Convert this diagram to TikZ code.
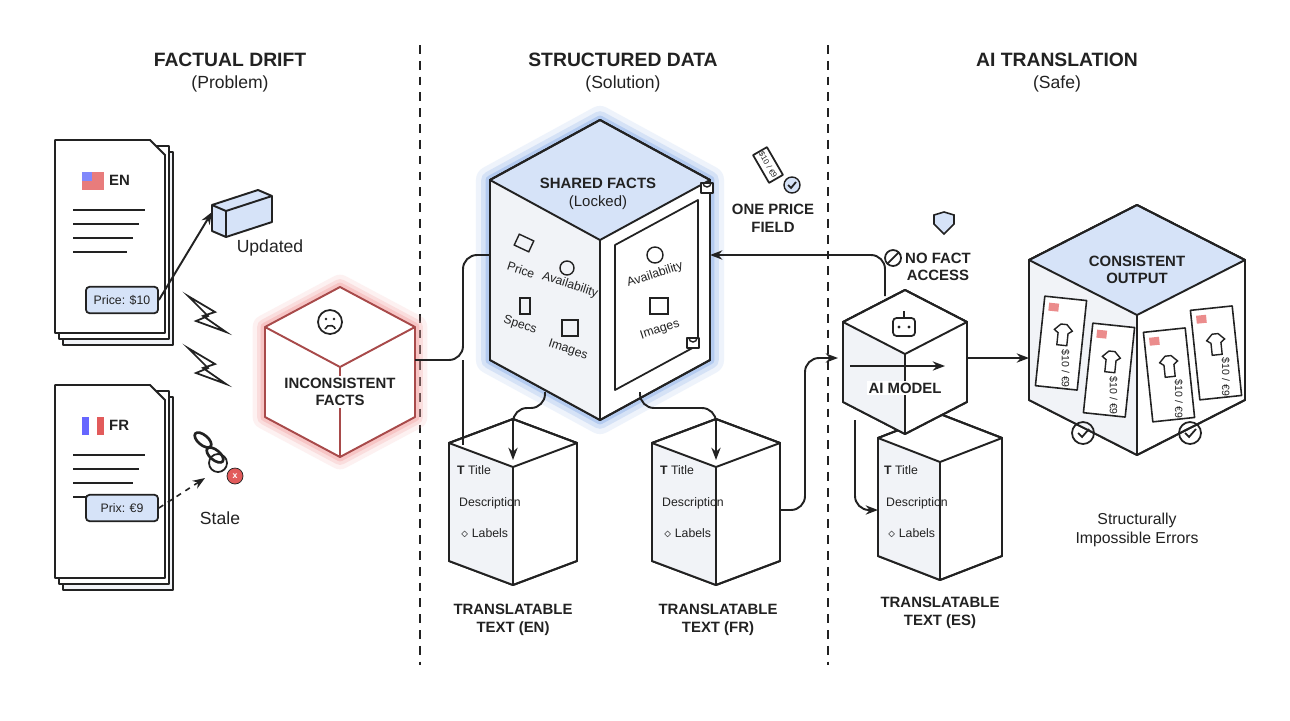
\documentclass[tikz,border=0pt]{standalone}
\usepackage{fontspec}
\setmainfont{Liberation Sans}
\usetikzlibrary{arrows.meta,positioning}

\definecolor{ink}{HTML}{222222}
\definecolor{softblue}{HTML}{D6E3F8}
\definecolor{edgeblue}{HTML}{8DB0EA}
\definecolor{paleface}{HTML}{F1F3F7}
\definecolor{glowred}{HTML}{F3A3A3}
\definecolor{errred}{HTML}{E25B5B}

\tikzset{
  cube/.style={draw=ink, line width=1.1pt, line join=round},
  head/.style={font=\bfseries\fontsize{11}{12}\selectfont, text=ink, align=center},
  sub/.style={font=\fontsize{10}{11}\selectfont, text=ink},
  lbl/.style={font=\bfseries\fontsize{8.5}{10}\selectfont, text=ink, align=center},
  small/.style={font=\fontsize{7}{8}\selectfont, text=ink},
  link/.style={draw=ink, line width=1.1pt, -{Stealth[length=7pt]}, rounded corners=8pt},
  divider/.style={draw=ink, line width=1pt, dash pattern=on 5pt off 4pt},
}

% cx, cy, half width, half height, depth, top fill
\newcommand\isocube[6]{%
  \filldraw[cube, fill=white] (#1,#2-#4) -- (#1+#3,#2-#4+#5) -- (#1+#3,#2+#4-#5)
    -- (#1,#2+#4) -- (#1-#3,#2+#4-#5) -- (#1-#3,#2-#4+#5) -- cycle;
  \fill[paleface] (#1,#2-#4+2*#5) -- (#1,#2+#4) -- (#1-#3,#2+#4-#5) -- (#1-#3,#2-#4+#5) -- cycle;
  \filldraw[cube, fill=#6] (#1,#2-#4) -- (#1+#3,#2-#4+#5) -- (#1,#2-#4+2*#5)
    -- (#1-#3,#2-#4+#5) -- cycle;
  \draw[cube] (#1,#2-#4+2*#5) -- (#1,#2+#4);
  \draw[cube] (#1,#2-#4) -- (#1+#3,#2-#4+#5) -- (#1+#3,#2+#4-#5)
    -- (#1,#2+#4) -- (#1-#3,#2+#4-#5) -- (#1-#3,#2-#4+#5) -- cycle;
}

% x, y, flag label
\newcommand\docstack[3]{%
  \filldraw[cube, fill=paleface] (#1+8,#2+12) rectangle (#1+118,#2+205);
  \filldraw[cube, fill=white] (#1+4,#2+6) rectangle (#1+114,#2+199);
  \filldraw[cube, fill=white] (#1,#2) -- (#1+95,#2) -- (#1+110,#2+15) -- (#1+110,#2+193) -- (#1,#2+193) -- cycle;
  \node[lbl, anchor=west] at (#1+48,#2+40) {#3};
  \foreach \k in {0,...,3}
    \draw[ink, line width=0.9pt] (#1+18,#2+70+14*\k) -- (#1+90-6*\k,#2+70+14*\k);
}

\begin{document}
\begin{tikzpicture}[x=0.02cm, y=-0.02cm]
\useasboundingbox (0,0) rectangle (1290,720);
\fill[white] (0,0) rectangle (1290,720);

% headings
\node[head] (hdrift) at (230,60) {FACTUAL DRIFT};
\node[sub] at (230,84) {(Problem)};
\node[head] (hdata) at (623,60) {STRUCTURED DATA};
\node[sub] at (623,84) {(Solution)};
\node[head] (hai) at (1057,60) {AI TRANSLATION};
\node[sub] at (1057,84) {(Safe)};

\draw[divider] (420,45) -- (420,665);
\draw[divider] (828,45) -- (828,665);

% left column: documents
\docstack{55}{140}{EN}
\fill[errred!80] (82,172) rectangle (104,190);
\fill[softblue!60!blue] (82,172) rectangle (92,181);
\docstack{55}{385}{FR}
\fill[blue!60] (82,417) rectangle (89,435);
\fill[white] (89,417) rectangle (97,435);
\fill[errred] (97,417) rectangle (104,435);

\node[draw=ink, line width=1pt, fill=softblue, rounded corners=2pt, minimum width=41pt, minimum height=15pt, small]
  (priceen) at (122,300) {Price: \$10};
\node[draw=ink, line width=1pt, fill=softblue, rounded corners=2pt, minimum width=41pt, minimum height=15pt, small]
  (pricefr) at (122,508) {Prix: €9};

% updated block
\coordinate (upd) at (212,212);
\filldraw[cube, fill=softblue] (212,205) -- (258,190) -- (272,196) -- (272,222) -- (226,237) -- (212,231) -- cycle;
\draw[cube] (212,205) -- (226,211) -- (272,196) (226,211) -- (226,237);
\draw[link] (priceen.east) -- (upd);
\node[sub] at (270,248) {Updated};

% stale link
\coordinate (stale) at (205,478);
\draw[link, dashed, line width=0.9pt] (pricefr.east) -- (stale);
\draw[ink, line width=1.5pt, rotate around={-40:(215,455)}] (215,455) ellipse (10 and 5);
\draw[ink, line width=1.5pt, rotate around={-40:(203,440)}] (203,440) ellipse (10 and 5);
\draw[ink, line width=1pt] (218,463) circle (9);
\filldraw[errred, draw=ink] (235,476) circle (8);
\node[text=white, font=\bfseries\tiny] at (235,476) {x};
\node[sub] at (220,518) {Stale};

% lightning
\foreach \y in {318,370}
  \filldraw[fill=white, draw=ink, line width=1pt] (188,\y-22) -- (215,\y-6) -- (203,\y-2) -- (226,\y+14)
    -- (196,\y+3) -- (208,\y-2) -- cycle;

% inconsistent facts
\foreach \w/\o in {14/0.15, 9/0.25, 5/0.4}
  \draw[glowred, opacity=\o, line width=\w pt, line join=round] (340,287) -- (415,327) -- (415,417) -- (340,457) -- (265,417) -- (265,327) -- cycle;
\fill[white] (340,287) -- (415,327) -- (415,417) -- (340,457) -- (265,417) -- (265,327) -- cycle;
\draw[cube, draw=errred!70!ink] (340,287) -- (415,327) -- (415,417) -- (340,457) -- (265,417) -- (265,327) -- cycle;
\draw[cube, draw=errred!70!ink] (265,327) -- (340,367) -- (415,327) (340,367) -- (340,457);
\coordinate (incon) at (415,360);
\draw[ink, line width=1pt] (330,322) circle (12);
\fill[ink] (326,319) circle (1.4) (334,319) circle (1.4);
\draw[ink, line width=0.9pt] (325,329) arc (200:340:5.5);
\node[lbl, fill=white, inner sep=1pt] at (340,392) {INCONSISTENT\\FACTS};

% shared facts cube
\foreach \w/\o in {16/0.15, 10/0.25, 5/0.45}
  \draw[edgeblue, opacity=\o, line width=\w pt, line join=round] (600,120) -- (710,180) -- (710,360) -- (600,420) -- (490,360) -- (490,180) -- cycle;
\isocube{600}{270}{110}{150}{60}{softblue}
\coordinate (sharedL) at (490,255);
\coordinate (sharedR) at (710,255);
\node[lbl] at (598,183) {SHARED FACTS};
\node[sub, font=\fontsize{8.5}{10}\selectfont] at (598,203) {(Locked)};
\node[small, rotate=-18] at (521,270) {Price};
\node[small, rotate=-18] at (570,285) {Availability};
\node[small, rotate=-18] at (520,325) {Specs};
\node[small, rotate=-18] at (568,350) {Images};
\draw[ink, line width=0.8pt] (567,268) circle (7);
\draw[ink, line width=0.8pt] (520,298) rectangle (530,314);
\draw[ink, line width=0.8pt] (562,320) rectangle (578,336);
\draw[ink, line width=0.8pt, rotate around={-25:(524,243)}] (516,237) rectangle (532,249);
\filldraw[cube, line width=1pt, fill=white] (615,245) -- (698,200) -- (698,345) -- (615,390) -- cycle;
\node[small, rotate=18] at (655,275) {Availability};
\node[small, rotate=18] at (660,330) {Images};
\draw[ink, line width=0.8pt] (655,255) circle (8);
\draw[ink, line width=0.8pt] (650,298) rectangle (668,314);
\foreach \lx/\ly in {707/183, 693/338}
  {\filldraw[cube, line width=0.8pt, fill=white] (\lx-6,\ly) rectangle (\lx+6,\ly+10);
   \draw[ink, line width=0.8pt] (\lx-4,\ly) arc (180:0:4);}

% one price field
\node[lbl] (oneprice) at (773,218) {ONE PRICE\\FIELD};
\draw[cube, line width=1pt, rotate around={-60:(768,165)}] (752,157) rectangle (784,173);
\node[rotate=-60, font=\fontsize{4.5}{5}\selectfont, text=ink, inner sep=0pt] at (768,165) {\$10 / €9};
\filldraw[draw=ink, fill=softblue, line width=0.8pt] (792,185) circle (8);
\draw[ink, line width=1pt] (788,185) -- (791,188) -- (796,182);

% translatable cubes
\isocube{513}{502}{64}{83}{24}{white}
\isocube{716}{502}{64}{83}{24}{white}
\isocube{940}{497}{62}{83}{24}{white}
\coordinate (transEN) at (513,460);
\coordinate (transFR) at (716,460);
\coordinate (transES) at (878,510);
\coordinate (transFRr) at (780,510);
\foreach \cx in {473,676,900}
  {\node[small, anchor=west] at (\cx-22,470) {\textbf{T} Title};
   \node[small, anchor=west] at (\cx-20,503) {Description};
   \node[small, anchor=west] at (\cx-18,533) {$\diamond$ Labels};}
\node[lbl] at (513,620) {TRANSLATABLE\\TEXT (EN)};
\node[lbl] at (718,620) {TRANSLATABLE\\TEXT (FR)};
\node[lbl] at (940,613) {TRANSLATABLE\\TEXT (ES)};

% ai model
\isocube{905}{362}{62}{72}{32}{white}
\coordinate (aitop) at (885,296);
\coordinate (ail) at (838,358);
\coordinate (air) at (967,358);
\coordinate (aibot) at (855,420);
\draw[cube, line width=1pt, rounded corners=2pt] (893,318) rectangle (915,336);
\fill[ink] (899,327) circle (1.6) (909,327) circle (1.6);
\draw[ink, line width=1pt] (904,318) -- (904,311);
\draw[link, line width=1pt] (850,366) -- (945,366);
\node[lbl, fill=white, inner sep=1pt] at (905,388) {AI MODEL};

% no fact access
\node[lbl] (nofact) at (938,267) {NO FACT\\ACCESS};
\draw[ink, line width=1pt] (893,258) circle (8);
\draw[ink, line width=1pt] (887,264) -- (899,252);
\filldraw[draw=ink, fill=softblue, line width=0.9pt] (934,215) -- (944,212) -- (954,215) -- (954,224) -- (944,234) -- (934,224) -- cycle;

% consistent output
\isocube{1137}{330}{108}{125}{55}{softblue}
\coordinate (output) at (1029,358);
\node[lbl] at (1137,270) {CONSISTENT\\OUTPUT};
\foreach \px/\py/\rt in {1040/298/-6, 1088/325/-6, 1148/330/6, 1195/308/6}
  {\begin{scope}[rotate around={\rt:(\px+20,\py+45)}]
   \filldraw[cube, line width=0.9pt, fill=white] (\px,\py) rectangle (\px+42,\py+90);
   \fill[errred!70] (\px+5,\py+6) rectangle (\px+15,\py+14);
   \draw[ink, line width=0.8pt] (\px+13,\py+32) -- (\px+19,\py+26) -- (\px+25,\py+26) -- (\px+31,\py+32) -- (\px+27,\py+35) -- (\px+27,\py+47) -- (\px+17,\py+47) -- (\px+17,\py+35) -- cycle;
   \node[small, rotate=-90, font=\fontsize{6}{7}\selectfont] at (\px+28,\py+70) {\$10 / €9};
   \end{scope}}
\foreach \cx in {1083,1190}
  {\draw[ink, line width=1pt] (\cx,433) circle (11);
   \draw[ink, line width=1pt] (\cx-5,433) -- (\cx-1,437) -- (\cx+6,429);}
\node[sub, align=center, font=\fontsize{9}{11}\selectfont] at (1137,530) {Structurally\\Impossible Errors};

% connectors
\draw[ink, line width=1.1pt, rounded corners=8pt] (incon) -- (463,360) -- (463,255) -- (sharedL);
\draw[ink, line width=1.1pt] (463,360) -- (463,445);
\draw[link] (545,392) -- (545,408) -- (513,408) -- (transEN);
\draw[link] (640,392) -- (640,408) -- (716,408) -- (transFR);
\draw[link] (transFRr) -- (805,510) -- (805,358) -- (ail);
\draw[link] (aitop) -- (885,255) -- (sharedR);
\draw[link] (aibot) -- (855,510) -- (transES);
\draw[link] (air) -- (output);
\end{tikzpicture}
\end{document}
